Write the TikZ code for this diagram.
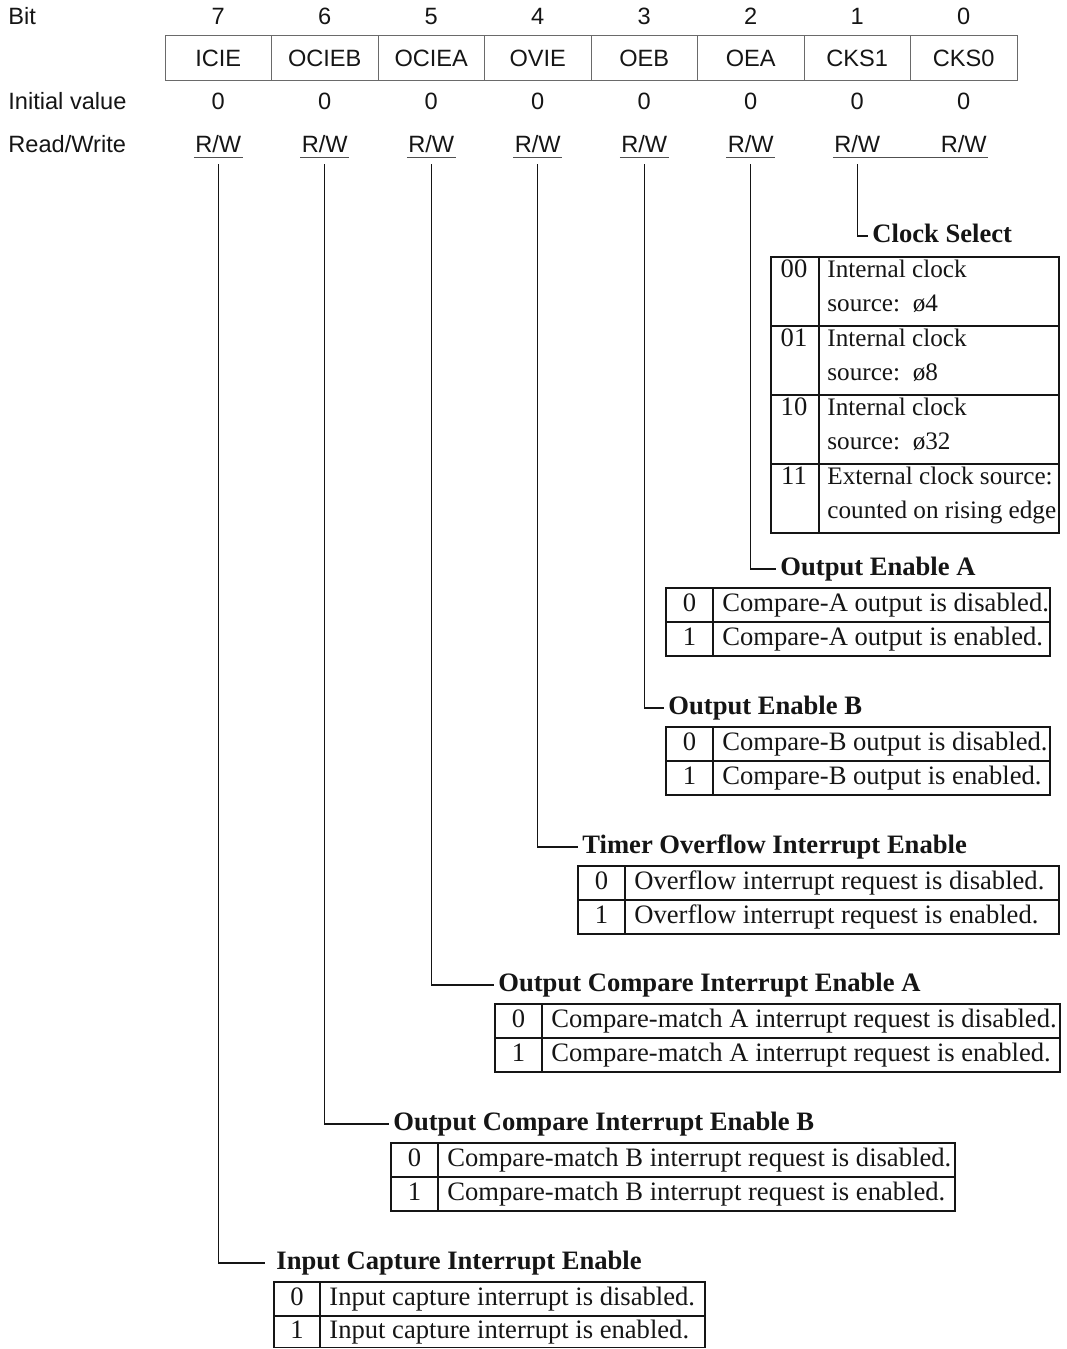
\documentclass[tikz,border=0pt]{standalone}
\usepackage{fontspec}
\setmainfont{Liberation Serif}
\setsansfont{Liberation Sans}
\usetikzlibrary{positioning}
\definecolor{ink}{HTML}{151515}
\definecolor{boxgray}{HTML}{6A6A6A}
\definecolor{rulegray}{HTML}{505050}

\begin{document}
\begin{tikzpicture}[x=0.5pt,y=-0.5pt,
  % header rows are sans, the bit tables below are serif
  hdr/.style={font=\sffamily\fontsize{11.8pt}{14pt}\selectfont,text=ink,
    inner sep=0pt,text height=0.72em,text depth=0pt},
  field/.style={hdr,draw=boxgray,line width=0.5pt,text height=0.89em,
    minimum width=53.25pt,minimum height=22.5pt},
  rwcell/.style={hdr,inner xsep=0.5pt,inner ysep=2.25pt},
  underline/.style={draw=rulegray,line width=0.6pt},
  leader/.style={draw=ink,line width=0.55pt},
  title/.style={font=\bfseries\fontsize{13.3pt}{16pt}\selectfont,text=ink,
    anchor=west,inner xsep=2pt,inner ysep=0pt,text height=0.66em,text depth=0pt},
  grid/.style={draw=ink,line width=0.6pt},
  val/.style={font=\fontsize{13.3pt}{16pt}\selectfont,text=ink,
    inner sep=0pt,text height=0.66em,text depth=0pt},
  desc/.style={val,anchor=west},
  clk/.style={desc,font=\fontsize{12.6pt}{15pt}\selectfont}
]
  \useasboundingbox (0,0) rectangle (1066,1349);

  % register header
  \node[hdr,anchor=west] (bitlbl) at (8,17.5) {Bit};
  \node[hdr,anchor=west] (initlbl) at (8,102) {Initial value};
  \node[hdr,anchor=west] (rwlbl) at (8,145) {Read/Write};

  \node[hdr] (b7) at (218.25,17.5) {7};
  \node[hdr] (b6) at (324.75,17.5) {6};
  \node[hdr] (b5) at (431.25,17.5) {5};
  \node[hdr] (b4) at (537.75,17.5) {4};
  \node[hdr] (b3) at (644.25,17.5) {3};
  \node[hdr] (b2) at (750.75,17.5) {2};
  \node[hdr] (b1) at (857.25,17.5) {1};
  \node[hdr] (b0) at (963.75,17.5) {0};

  \node[field] (icie) at (218.25,57.5) {ICIE};
  \node[field] (ocieb) at (324.75,57.5) {OCIEB};
  \node[field] (ociea) at (431.25,57.5) {OCIEA};
  \node[field] (ovie) at (537.75,57.5) {OVIE};
  \node[field] (oeb) at (644.25,57.5) {OEB};
  \node[field] (oea) at (750.75,57.5) {OEA};
  \node[field] (cks1) at (857.25,57.5) {CKS1};
  \node[field] (cks0) at (963.75,57.5) {CKS0};

  \node[hdr] (iv7) at (218.25,102) {0};
  \node[hdr] (iv6) at (324.75,102) {0};
  \node[hdr] (iv5) at (431.25,102) {0};
  \node[hdr] (iv4) at (537.75,102) {0};
  \node[hdr] (iv3) at (644.25,102) {0};
  \node[hdr] (iv2) at (750.75,102) {0};
  \node[hdr] (iv1) at (857.25,102) {0};
  \node[hdr] (iv0) at (963.75,102) {0};

  \node[rwcell] (rw7) at (218.25,145) {R/W};
  \node[rwcell] (rw6) at (324.75,145) {R/W};
  \node[rwcell] (rw5) at (431.25,145) {R/W};
  \node[rwcell] (rw4) at (537.75,145) {R/W};
  \node[rwcell] (rw3) at (644.25,145) {R/W};
  \node[rwcell] (rw2) at (750.75,145) {R/W};
  \node[rwcell] (rw1) at (857.25,145) {R/W};
  \node[rwcell] (rw0) at (963.75,145) {R/W};

  \draw[underline] (rw7.south west) -- (rw7.south east);
  \draw[underline] (rw6.south west) -- (rw6.south east);
  \draw[underline] (rw5.south west) -- (rw5.south east);
  \draw[underline] (rw4.south west) -- (rw4.south east);
  \draw[underline] (rw3.south west) -- (rw3.south east);
  \draw[underline] (rw2.south west) -- (rw2.south east);
  \draw[underline] (rw1.south west) -- (rw0.south east);

  % bit titles
  \node[title] (cs-title) at (868,236) {Clock Select};
  \node[title] (oea-title) at (776,569) {Output Enable A};
  \node[title] (oeb-title) at (664,708) {Output Enable B};
  \node[title] (ovie-title) at (578,847) {Timer Overflow Interrupt Enable};
  \node[title] (ociea-title) at (494,985) {Output Compare Interrupt Enable A};
  \node[title] (ocieb-title) at (389,1124) {Output Compare Interrupt Enable B};
  \node[title] (icie-title) at (272,1263) {Input Capture Interrupt Enable};

  \draw[leader] ([yshift=-3.5pt]rw1.south) |- (cs-title.west);
  \draw[leader] ([yshift=-3.5pt]rw2.south) |- (oea-title.west);
  \draw[leader] ([yshift=-3.5pt]rw3.south) |- (oeb-title.west);
  \draw[leader] ([yshift=-3.5pt]rw4.south) |- (ovie-title.west);
  \draw[leader] ([yshift=-3.5pt]rw5.south) |- (ociea-title.west);
  \draw[leader] ([yshift=-3.5pt]rw6.south) |- (ocieb-title.west);
  \draw[leader] ([yshift=-3.5pt]rw7.south) |- ([xshift=-3.5pt]icie-title.west);

  % Clock Select table
  \draw[grid] (771,257) rectangle (1059,533);
  \draw[grid] (819,257) -- (819,533);
  \draw[grid] (771,326) -- (1059,326) (771,395) -- (1059,395) (771,464) -- (1059,464);
  \node[val] (cs00) at (794,270.5) {00};
  \node[clk] (cs00a) at (827,270.5) {Internal clock};
  \node[clk] (cs00b) at (827,305) {source:~~ø4};
  \node[val] (cs01) at (794,339.5) {01};
  \node[clk] (cs01a) at (827,339.5) {Internal clock};
  \node[clk] (cs01b) at (827,374) {source:~~ø8};
  \node[val] (cs10) at (794,408.5) {10};
  \node[clk] (cs10a) at (827,408.5) {Internal clock};
  \node[clk] (cs10b) at (827,443) {source:~~ø32};
  \node[val] (cs11) at (794,477.5) {11};
  \node[clk] (cs11a) at (827,477.5) {External clock source:};
  \node[clk] (cs11b) at (827,512) {counted on rising edge};

  % Output Enable A table
  \draw[grid] (666,588) rectangle (1050,656);
  \draw[grid] (713,588) -- (713,656) (666,622) -- (1050,622);
  \node[val] (oea0) at (689.5,605) {0};
  \node[desc] (oea0d) at (722,605) {Compare-A output is disabled.};
  \node[val] (oea1) at (689.5,639) {1};
  \node[desc] (oea1d) at (722,639) {Compare-A output is enabled.};

  % Output Enable B table
  \draw[grid] (666,727) rectangle (1050,795);
  \draw[grid] (713,727) -- (713,795) (666,761) -- (1050,761);
  \node[val] (oeb0) at (689.5,744) {0};
  \node[desc] (oeb0d) at (722,744) {Compare-B output is disabled.};
  \node[val] (oeb1) at (689.5,778) {1};
  \node[desc] (oeb1d) at (722,778) {Compare-B output is enabled.};

  % Timer Overflow Interrupt Enable table
  \draw[grid] (578,866) rectangle (1059,934);
  \draw[grid] (625,866) -- (625,934) (578,900) -- (1059,900);
  \node[val] (ovie0) at (601.5,883) {0};
  \node[desc] (ovie0d) at (634,883) {Overflow interrupt request is disabled.};
  \node[val] (ovie1) at (601.5,917) {1};
  \node[desc] (ovie1d) at (634,917) {Overflow interrupt request is enabled.};

  % Output Compare Interrupt Enable A table
  \draw[grid] (495,1004) rectangle (1060,1072);
  \draw[grid] (542,1004) -- (542,1072) (495,1038) -- (1060,1038);
  \node[val] (ociea0) at (518.5,1021) {0};
  \node[desc] (ociea0d) at (551,1021) {Compare-match A interrupt request is disabled.};
  \node[val] (ociea1) at (518.5,1055) {1};
  \node[desc] (ociea1d) at (551,1055) {Compare-match A interrupt request is enabled.};

  % Output Compare Interrupt Enable B table
  \draw[grid] (391,1143) rectangle (955,1211);
  \draw[grid] (438,1143) -- (438,1211) (391,1177) -- (955,1177);
  \node[val] (ocieb0) at (414.5,1160) {0};
  \node[desc] (ocieb0d) at (447,1160) {Compare-match B interrupt request is disabled.};
  \node[val] (ocieb1) at (414.5,1194) {1};
  \node[desc] (ocieb1d) at (447,1194) {Compare-match B interrupt request is enabled.};

  % Input Capture Interrupt Enable table
  \draw[grid] (274,1282) rectangle (705,1347.5);
  \draw[grid] (320,1282) -- (320,1347.5) (274,1316) -- (705,1316);
  \node[val] (icie0) at (297,1299) {0};
  \node[desc] (icie0d) at (329,1299) {Input capture interrupt is disabled.};
  \node[val] (icie1) at (297,1332) {1};
  \node[desc] (icie1d) at (329,1332) {Input capture interrupt is enabled.};
\end{tikzpicture}
\end{document}
